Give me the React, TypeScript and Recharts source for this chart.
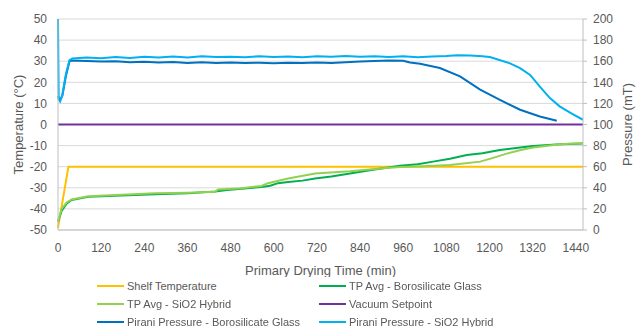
import React from "react";
import {
  LineChart,
  Line,
  XAxis,
  YAxis,
  CartesianGrid,
} from "recharts";

const FONT = "'Liberation Sans', Arial, sans-serif";
const TEXT = "#595959";

// x axis (minutes)
const xTicks = [0, 120, 240, 360, 480, 600, 720, 840, 960, 1080, 1200, 1320, 1440];
const tempTicks = [-50, -40, -30, -20, -10, 0, 10, 20, 30, 40, 50];
const presTicks = [0, 20, 40, 60, 80, 100, 120, 140, 160, 180, 200];

// Shelf temperature (°C)
const shelfT = [0, 29, 1460];
const shelfV = [-49, -20, -20];

// Product temperature, borosilicate glass (°C)
const tpBoroT = [0, 10, 24, 38, 84, 177, 270, 362, 437, 470, 511, 566, 590, 612, 640, 680, 715, 760, 812, 876, 951, 1000, 1043, 1090, 1137, 1180, 1229, 1280, 1321, 1396, 1460];
const tpBoroV = [-46, -41, -37.5, -35.8, -34.3, -33.6, -33, -32.6, -31.8, -31, -30.4, -29.6, -29, -27.8, -27.2, -26.6, -25.6, -24.6, -23.2, -21.4, -19.6, -18.8, -17.6, -16.2, -14.5, -13.6, -12.1, -11, -10.2, -9.4, -9];

// Product temperature, SiO2 hybrid (°C)
const tpSioT = [0, 10, 24, 38, 84, 177, 270, 362, 437, 445, 511, 566, 584, 640, 715, 812, 904, 951, 1000, 1090, 1174, 1210, 1248, 1290, 1321, 1396, 1460];
const tpSioV = [-46, -40, -37, -35.5, -34, -33.3, -32.6, -32.3, -31.9, -30.8, -30.2, -29.1, -27.8, -25.6, -23.2, -22.2, -20.7, -20.2, -19.9, -19.2, -17.6, -15.8, -13.8, -12, -10.9, -9.4, -8.8];

// Vacuum setpoint (mT)
const vacT = [0, 1460];
const vacV = [100, 100];

// Pirani pressure, borosilicate glass (mT)
const pirBoroT = [0, 5, 12, 22, 32, 40, 80, 120, 160, 200, 240, 280, 320, 360, 400, 440, 480, 520, 560, 600, 640, 680, 720, 760, 800, 840, 880, 920, 960, 979, 1007, 1062, 1118, 1174, 1229, 1285, 1340, 1387];
const pirBoroV = [127, 123, 127, 146, 160, 160.6, 160.2, 159.6, 159.9, 159.1, 159.5, 158.7, 159.2, 158.4, 158.9, 158.2, 158.8, 158.3, 158.6, 158, 158.5, 158.2, 158.7, 158.4, 159.1, 159.6, 160.2, 160.6, 160.4, 158.8, 157.6, 153.5, 145.6, 133, 123.4, 114, 107.6, 103.6];

// Pirani pressure, SiO2 hybrid (mT)
const pirSioT = [0, 2, 6, 12, 22, 32, 40, 80, 120, 160, 200, 240, 280, 320, 360, 400, 440, 480, 520, 560, 600, 640, 680, 720, 760, 800, 840, 880, 920, 960, 1000, 1040, 1080, 1110, 1146, 1180, 1201, 1257, 1285, 1313, 1340, 1368, 1396, 1430, 1460];
const pirSioV = [200, 124, 122, 128, 148, 161, 162.5, 163.4, 162.8, 163.9, 163.1, 164.2, 163.5, 164.4, 163.6, 164.6, 163.9, 164.3, 163.7, 164.8, 164.1, 164.5, 163.8, 164.6, 164.2, 164.9, 164.3, 164.7, 164, 164.6, 163.8, 164.4, 164.9, 165.6, 165.3, 164.8, 164, 158, 153.5, 147, 136, 125, 117, 110, 104.5];

const zip = (t: number[], v: number[]) => t.map((x, i) => ({ t: x, v: v[i] }));

const series = [
  { name: "Shelf Temperature", color: "#FFC000", axis: "temp", data: zip(shelfT, shelfV) },
  { name: "TP Avg - Borosilicate Glass", color: "#00B050", axis: "temp", data: zip(tpBoroT, tpBoroV) },
  { name: "TP Avg - SiO2 Hybrid", color: "#92D050", axis: "temp", data: zip(tpSioT, tpSioV) },
  { name: "Vacuum Setpoint", color: "#7030A0", axis: "pres", data: zip(vacT, vacV) },
  { name: "Pirani Pressure - Borosilicate Glass", color: "#0070C0", axis: "pres", data: zip(pirBoroT, pirBoroV) },
  { name: "Pirani Pressure - SiO2 Hybrid", color: "#00B0F0", axis: "pres", data: zip(pirSioT, pirSioV) },
];

function ChartLegend() {
  const rowY = [277, 295, 313];
  const colX = [97, 319];
  return (
    <>
      {series.map((s, i) => (
        <div
          key={s.name}
          style={{
            position: "absolute",
            left: colX[i % 2],
            top: rowY[Math.floor(i / 2)],
            height: 18,
            display: "flex",
            alignItems: "center",
            fontFamily: FONT,
            fontSize: 11,
            color: TEXT,
            whiteSpace: "nowrap",
          }}
        >
          <span style={{ display: "inline-block", width: 27, height: 2, background: s.color, marginRight: 3 }} />
          {s.name}
        </div>
      ))}
    </>
  );
}

export default function App() {
  const tickStyle = { fontSize: 12, fill: TEXT, fontFamily: FONT };
  return (
    <div style={{ position: "fixed", left: 0, top: 0, width: 636, height: 327, background: "#fff" }}>
      <LineChart width={636} height={277} margin={{ top: 19, right: 0, bottom: 0, left: 0 }}>
        <CartesianGrid vertical={false} stroke="#D9D9D9" yAxisId="temp" />
        <XAxis
          type="number"
          dataKey="t"
          domain={[0, 1460]}
          ticks={xTicks}
          interval={0}
          height={47}
          tick={tickStyle}
          tickLine={false}
          tickMargin={7}
          axisLine={{ stroke: "#BFBFBF" }}
          label={{ value: "Primary Drying Time (min)", position: "insideBottom", offset: 2, style: { fontSize: 13, fill: TEXT, fontFamily: FONT } }}
        />
        <YAxis
          yAxisId="temp"
          domain={[-50, 50]}
          ticks={tempTicks}
          interval={0}
          width={58}
          tick={tickStyle}
          tickLine={false}
          tickMargin={5}
          axisLine={{ stroke: "#BFBFBF" }}
          label={{ value: "Temperature (°C)", angle: -90, position: "insideLeft", offset: 18, style: { fontSize: 13, fill: TEXT, fontFamily: FONT, textAnchor: "middle" } }}
        />
        <YAxis
          yAxisId="pres"
          orientation="right"
          domain={[0, 200]}
          ticks={presTicks}
          interval={0}
          width={53}
          tick={tickStyle}
          tickSize={4}
          tickLine={{ stroke: "#BFBFBF" }}
          tickMargin={6}
          axisLine={{ stroke: "#BFBFBF" }}
          label={{ value: "Pressure (mT)", angle: -90, position: "insideRight", offset: 9, style: { fontSize: 13, fill: TEXT, fontFamily: FONT, textAnchor: "middle" } }}
        />
        {series.map((s) => (
          <Line
            key={s.name}
            yAxisId={s.axis}
            data={s.data}
            dataKey="v"
            name={s.name}
            type="linear"
            stroke={s.color}
            strokeWidth={2}
            dot={false}
            activeDot={false}
            isAnimationActive={false}
          />
        ))}
      </LineChart>
      <ChartLegend />
    </div>
  );
}
